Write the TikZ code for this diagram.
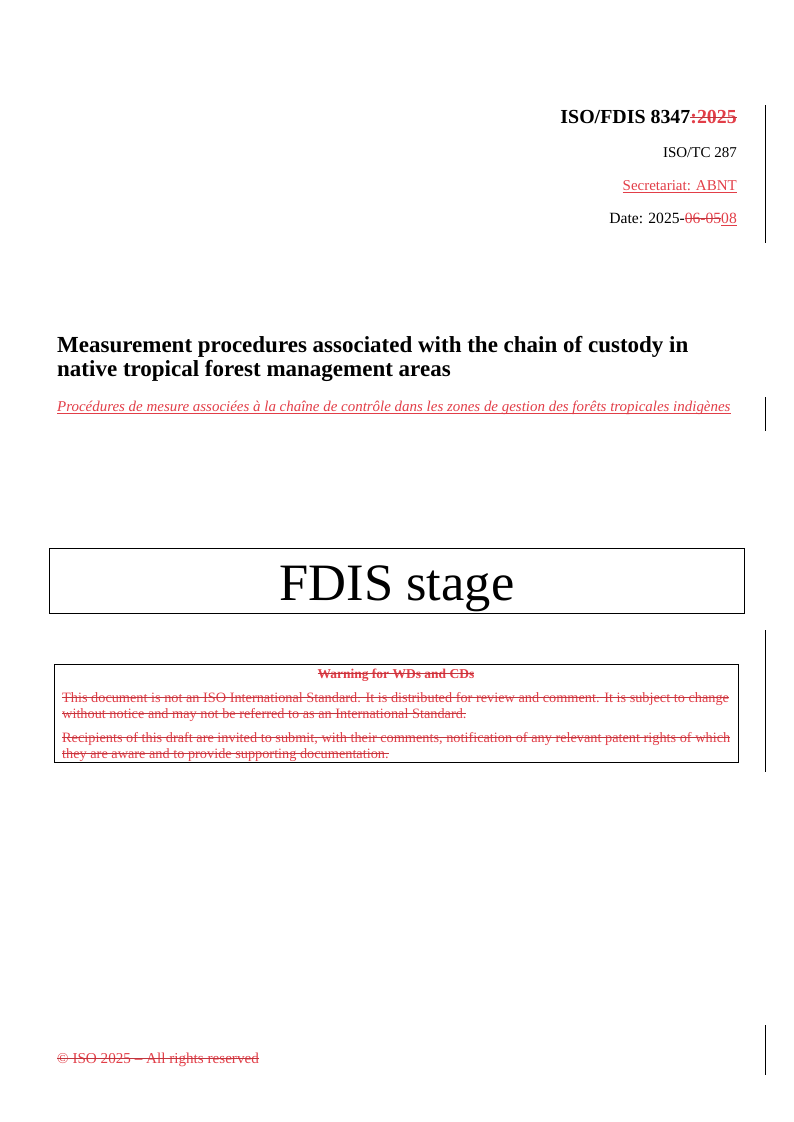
\documentclass[tikz,border=0pt]{standalone}
\usepackage{fontspec}
\setmainfont{Liberation Serif}
\usetikzlibrary{calc}
\definecolor{revred}{RGB}{226,62,72}
\newsavebox{\markbox}
% struck out and underlined text
\newcommand{\del}[1]{\sbox{\markbox}{\color{revred}#1}\rlap{\usebox{\markbox}}\textcolor{revred!85!black}{\rule[0.27em]{\wd\markbox}{0.9pt}}}
\newcommand{\ins}[1]{\sbox{\markbox}{\color{revred}#1}\rlap{\usebox{\markbox}}\textcolor{revred}{\rule[-0.17em]{\wd\markbox}{0.8pt}}}
\begin{document}
\begin{tikzpicture}[x=1pt,y=-1pt,inner sep=0pt,
        bar_style/.style={draw=black, line width=0.9pt},
        box_style/.style={draw=black, line width=0.8pt, minimum height=65pt, minimum width=695pt, text height=52.5pt, text depth=12.5pt},
        right_style/.style={anchor=base east, font=\fontsize{15}{16}\selectfont},
        left_style/.style={anchor=base west, font=\fontsize{15}{16}\selectfont}]

        \useasboundingbox (0,0) rectangle (793,1122);

        \node [right_style, font=\fontsize{19.9}{22}\selectfont\bfseries](docid) at (737,123) {ISO/FDIS 8347\del{:2025}};
        \node [right_style](tc) at (737,157) {ISO/TC 287};
        \node [right_style](sec) at (737,190) {\ins{Secretariat: ABNT}};
        \node [right_style, font=\fontsize{15.6}{16}\selectfont](date) at (737,223) {Date: 2025-\del{06-05}\ins{08}};

        \node [left_style, font=\fontsize{23}{24}\selectfont\bfseries](title1) at (57,352) {Measurement procedures associated with the chain of custody in};
        \node [left_style, font=\fontsize{23}{24}\selectfont\bfseries](title2) at (57,376) {native tropical forest management areas};
        \node [left_style, font=\fontsize{14.95}{16}\selectfont\itshape](french) at (57,411) {\ins{Procédures de mesure associées à la chaîne de contrôle dans les zones de gestion des forêts tropicales indigènes}};

        \node [box_style, font=\fontsize{52.5}{56}\selectfont](stage) at (397,580.5) {FDIS stage};

        \draw [draw=black, line width=0.8pt] (54.5,664.5) rectangle (738.5,762.5);
        \node [anchor=base, font=\fontsize{13.5}{14}\selectfont\bfseries](warn) at (396,678) {\del{Warning for WDs and CDs}};
        \node [left_style, font=\fontsize{14.3}{14}\selectfont](w1) at (62,702) {\del{This document is not an ISO International Standard. It is distributed for review and comment. It is subject to change}};
        \node [left_style, font=\fontsize{14.3}{14}\selectfont](w2) at (62,718) {\del{without notice and may not be referred to as an International Standard.}};
        \node [left_style, font=\fontsize{14.3}{14}\selectfont](w3) at (62,742) {\del{Recipients of this draft are invited to submit, with their comments, notification of any relevant patent rights of which}};
        \node [left_style, font=\fontsize{14.3}{14}\selectfont](w4) at (62,758) {\del{they are aware and to provide supporting documentation.}};

        \node [left_style, font=\fontsize{15.15}{16}\selectfont](foot) at (57,1063) {\del{© ISO 2025 – All rights reserved}};

        \coordinate (b1a) at (765.5,105); \coordinate (b1b) at (765.5,243);
        \coordinate (b2a) at (765.5,397); \coordinate (b2b) at (765.5,431);
        \coordinate (b3a) at (765.5,630); \coordinate (b3b) at (765.5,772);
        \coordinate (b4a) at (765.5,1025); \coordinate (b4b) at (765.5,1075);
        \draw [bar_style] (b1a) -- (b1b);
        \draw [bar_style] (b2a) -- (b2b);
        \draw [bar_style] (b3a) -- (b3b);
        \draw [bar_style] (b4a) -- (b4b);
\end{tikzpicture}
\end{document}
